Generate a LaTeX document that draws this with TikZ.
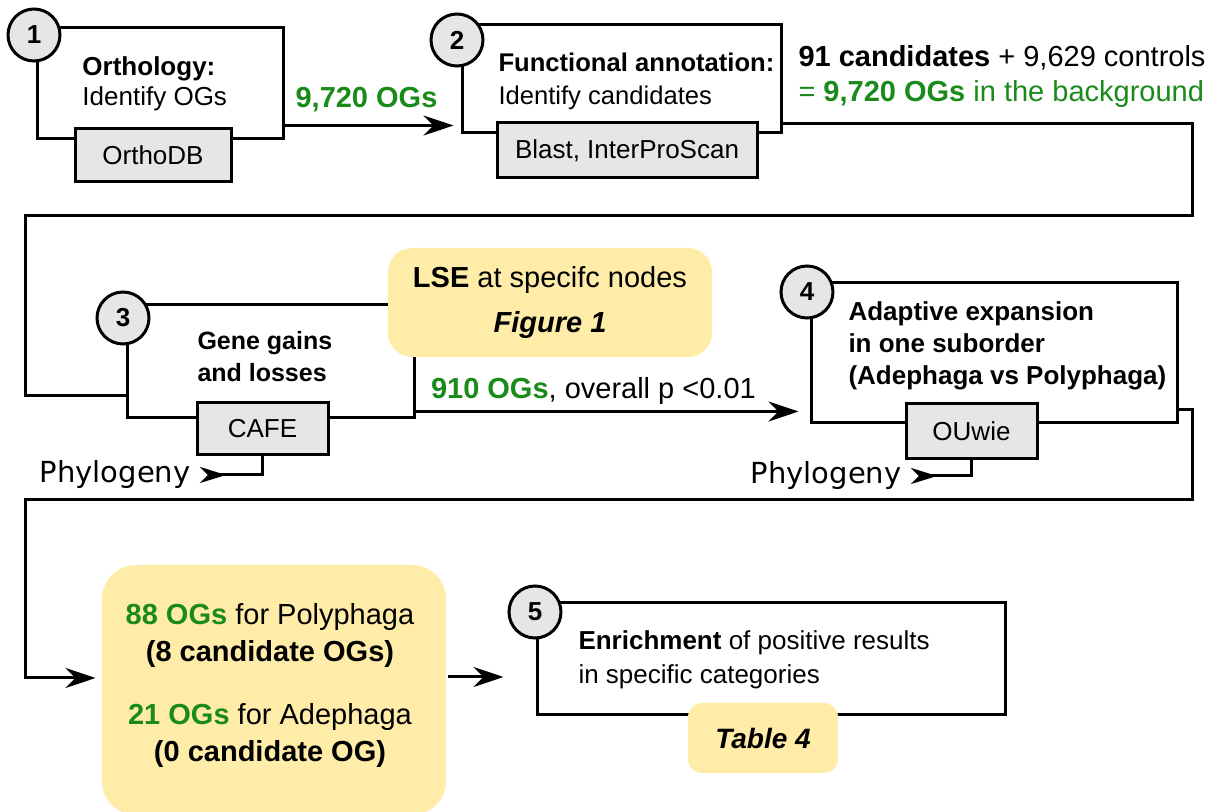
\documentclass[tikz,border=0pt]{standalone}
\usepackage{fontspec}
\setmainfont{Liberation Sans}
\newfontfamily\phylofont{DejaVu Sans}
\usetikzlibrary{arrows.meta,positioning}
\definecolor{ogreen}{RGB}{26,138,26}
\definecolor{paleyellow}{RGB}{255,236,168}
\definecolor{boxgray}{RGB}{230,230,230}

\begin{document}
\begin{tikzpicture}[
    x=0.5pt, y=-0.5pt, line width=1.5pt,
    stage/.style={draw, inner sep=0pt},
    tool/.style={draw, fill=boxgray, inner sep=0pt, font=\fontsize{13}{16}\selectfont},
    num/.style={circle, draw, fill=boxgray, minimum size=26pt, inner sep=0pt, font=\bfseries\fontsize{13}{16}\selectfont},
    note/.style={fill=paleyellow, rounded corners=12pt, inner sep=0pt},
    txt/.style={anchor=west, align=left, inner sep=0pt},
    arr/.style={-{Stealth[length=15pt,width=10pt,inset=5pt]}},
    ptr/.style={{Stealth[length=13pt,width=8pt,inset=4pt,reversed]}-},
    phylo/.style={anchor=east, inner sep=0pt, font=\phylofont\fontsize{14.5}{17}\selectfont}
  ]
\useasboundingbox (0,0) rectangle (1223,812);

% Stage boxes
\node[stage, minimum width=123pt, minimum height=55.5pt] (b1) at (160,83.5) {};
\node[stage, minimum width=159.5pt, minimum height=54pt] (b2) at (621.5,79) {};
\node[stage, minimum width=143.5pt, minimum height=56.5pt] (b3) at (270.5,361.5) {};
\node[stage, minimum width=183pt, minimum height=70pt] (b4) at (994,353) {};
\node[stage, minimum width=234pt, minimum height=56pt] (b5) at (771,659) {};

% Yellow notes
\node[note, minimum width=162pt, minimum height=54.5pt, align=center,
      font=\fontsize{14.5}{22.5}\selectfont] (lse) at (550,302.5)
      {\textbf{LSE} at specifc nodes\\\textbf{\textit{Figure 1}}};
\node[note, rounded corners=17pt, minimum width=172pt, minimum height=125pt] (res) at (274,690) {};
\node[note, rounded corners=7pt, minimum width=75pt, minimum height=35pt,
      font=\bfseries\itshape\fontsize{14}{17}\selectfont] (tab4) at (763,738) {Table 4};

% Tools
\node[tool, minimum width=78pt, minimum height=26.5pt] (odb) at (153,155.5) {OrthoDB};
\node[tool, minimum width=130pt, minimum height=27.5pt] (blast) at (627,150.5) {Blast, InterProScan};
\node[tool, minimum width=65.5pt, minimum height=26pt] (cafe) at (262.5,429) {CAFE};
\node[tool, minimum width=65.5pt, minimum height=27.5pt] (ouwie) at (971.5,431.5) {OUwie};

% Step numbers
\node[num] (c1) at (34,35) {1};
\node[num] (c2) at (457,40) {2};
\node[num] (c3) at (123,318) {3};
\node[num] (c4) at (807,292) {4};
\node[num] (c5) at (535,612) {5};

% Texts
\node[txt, font=\fontsize{13}{15}\selectfont] (t1) at (81,84) {\textbf{Orthology:}\\Identify OGs};
\node[txt, font=\fontsize{12.8}{16.5}\selectfont] (t2) at (497,81) {\textbf{Functional annotation:}\\Identify candidates};
\node[txt, font=\fontsize{14.5}{17.5}\selectfont] (bg) at (797,77)
      {\textbf{91 candidates} + 9,629 controls\\\textcolor{ogreen}{= \textbf{9,720 OGs} in the background}};
\node[txt, font=\bfseries\fontsize{12.5}{16}\selectfont] (t3) at (196,357) {Gene gains\\and losses};
\node[txt, font=\bfseries\fontsize{13}{16}\selectfont] (t4) at (847,346)
      {Adaptive expansion\\in one suborder\\(Adephaga vs Polyphaga)};
\node[align=center, inner sep=0pt, font=\fontsize{14.5}{18.5}\selectfont] (rtxt) at (270,686)
      {\textcolor{ogreen}{\textbf{88 OGs}} for Polyphaga\\\textbf{(8 candidate OGs)}\\[13pt]
       \textcolor{ogreen}{\textbf{21 OGs}} for Adephaga\\\textbf{(0 candidate OG)}};
\node[txt, font=\fontsize{13}{17}\selectfont] (t5) at (577,660)
      {\textbf{Enrichment} of positive results\\in specific categories};

% Phylogeny inputs
\node[phylo] (ph3) at (192,475) {Phylogeny};
\node[phylo] (ph4) at (903,476) {Phylogeny};
\draw[ptr] ([xshift=4pt]ph3.east) -| (cafe.south);
\draw[ptr] ([xshift=4pt]ph4.east) -| (ouwie.south);

% Connectors
\coordinate (bend1) at (1192,216);
\coordinate (bend2) at (25,216);
\coordinate (bend3) at (1192,500);
\coordinate (bend4) at (25,500);

\draw[arr, shorten >=3.5pt] ([yshift=7.5pt]b1.south east) -- ([yshift=7.5pt]b1.south east -| b2.west)
  node[midway, above=6pt, xshift=-3pt, inner sep=0pt, text=ogreen, font=\bfseries\fontsize{14.5}{17}\selectfont] (og1) {9,720 OGs};
\draw ([yshift=5.5pt]b2.south east) -| (bend1) -- (bend2) |- ([yshift=12pt]b3.south west);
\draw[arr, shorten >=5.5pt] ([yshift=4pt]b3.south east) -- ([yshift=4pt]b3.south east -| b4.west)
  node[pos=0, anchor=south west, xshift=7pt, yshift=2.5pt, inner sep=0pt, font=\fontsize{14.5}{17}\selectfont] (og2)
  {\textcolor{ogreen}{\textbf{910 OGs}}, overall p <0.01};
\draw[arr, shorten >=2.5pt] ([yshift=7.5pt]b4.south east) -| (bend3) -- (bend4) |- ([yshift=6pt]res.west);
\draw[arr, shorten >=16pt] ([yshift=6.5pt]res.east) -- ([yshift=6.5pt]res.east -| b5.west);

\end{tikzpicture}
\end{document}
